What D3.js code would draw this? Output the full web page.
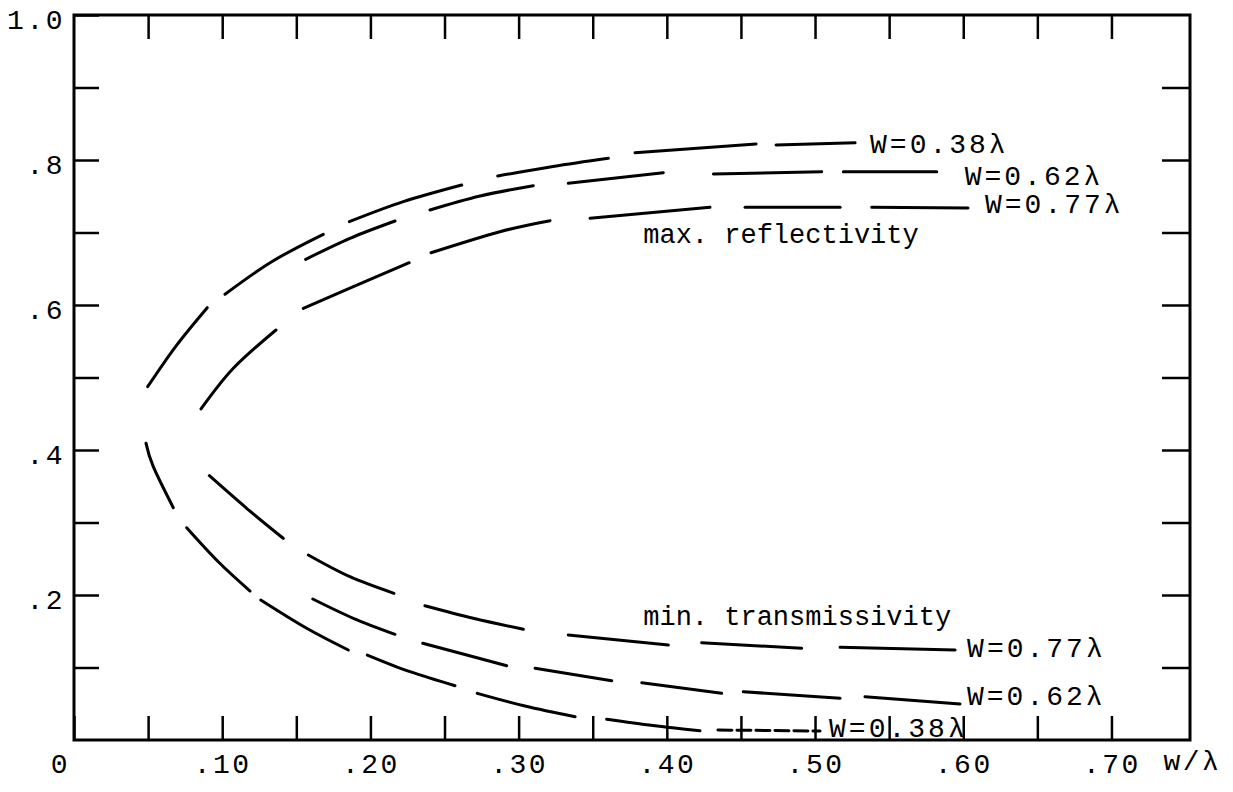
<!DOCTYPE html>
<html>
<head>
<meta charset="utf-8">
<script src="https://cdn.jsdelivr.net/npm/d3@7"></script>
<style>
body { margin: 0; background: #fff; }
</style>
</head>
<body>
<div id="chart"></div>
<script>
// tick values
var xTicks = [0, 0.05, 0.10, 0.15, 0.20, 0.25, 0.30, 0.35, 0.40, 0.45, 0.50, 0.55, 0.60, 0.65, 0.70];
var xLabelled = [0, 0.10, 0.20, 0.30, 0.40, 0.50, 0.60, 0.70];
var yTicks = [0.1, 0.2, 0.3, 0.4, 0.5, 0.6, 0.7, 0.8, 0.9];
var yLabelled = [0.2, 0.4, 0.6, 0.8, 1.0];
var xName = "w/\u03bb";

// curve labels
var curveNames = ["W=0.38\u03bb", "W=0.62\u03bb", "W=0.77\u03bb", "W=0.77\u03bb", "W=0.62\u03bb", "W=0.38\u03bb"];

var refl038 = [
  [[0.0497, 0.4873], [0.0688, 0.5434], [0.0899, 0.5963]],
  [[0.1019, 0.6148], [0.1334, 0.6597], [0.1682, 0.6975]],
  [[0.1858, 0.7149], [0.2222, 0.7425], [0.2616, 0.7655]],
  [[0.2859, 0.7779], [0.3232, 0.7910], [0.3605, 0.8023]],
  [[0.3785, 0.8101], [0.4602, 0.8221]],
  [[0.4737, 0.8207], [0.5270, 0.8239]]
];
var refl062 = [
  [[0.1563, 0.6630], [0.1862, 0.6920], [0.2166, 0.7159]],
  [[0.2402, 0.7310], [0.2740, 0.7503], [0.3099, 0.7646]],
  [[0.3335, 0.7679], [0.3976, 0.7825]],
  [[0.4314, 0.7807], [0.5045, 0.7839]],
  [[0.5191, 0.7839], [0.5821, 0.7839]]
];
var refl077 = [
  [[0.0857, 0.4566], [0.1075, 0.5127], [0.1363, 0.5655]],
  [[0.1547, 0.5954], [0.1885, 0.6252], [0.2262, 0.6583]],
  [[0.2409, 0.6721], [0.2874, 0.7011], [0.3212, 0.7163]],
  [[0.3482, 0.7196], [0.4291, 0.7348]],
  [[0.4528, 0.7348], [0.5169, 0.7348]],
  [[0.5383, 0.7348], [0.6032, 0.7338]]
];

// min. transmissivity
var trans077 = [
  [[0.0913, 0.3646], [0.1165, 0.3196], [0.1412, 0.2782]],
  [[0.1581, 0.2552], [0.1862, 0.2252], [0.2159, 0.2023]],
  [[0.2368, 0.1852], [0.2694, 0.1679], [0.3032, 0.1527]],
  [[0.3335, 0.1448], [0.4010, 0.1310]],
  [[0.4235, 0.1342], [0.4910, 0.1265]],
  [[0.5169, 0.1279], [0.5945, 0.1241]]
];
var trans062 = [
  [[0.1611, 0.1945], [0.1885, 0.1679], [0.2166, 0.1458]],
  [[0.2353, 0.1334], [0.2650, 0.1172], [0.2920, 0.1025]],
  [[0.3111, 0.0989], [0.3628, 0.0818]],
  [[0.3831, 0.0790], [0.4370, 0.0644]],
  [[0.4516, 0.0666], [0.5169, 0.0575]],
  [[0.5337, 0.0597], [0.5978, 0.0497]]
];
var trans038 = [
  [[0.0486, 0.4092], [0.0535, 0.3770], [0.0670, 0.3204]],
  [[0.0760, 0.2928], [0.0975, 0.2455], [0.1188, 0.2055]],
  [[0.1260, 0.1931], [0.1570, 0.1541], [0.1851, 0.1241]],
  [[0.1979, 0.1172], [0.2267, 0.0942], [0.2571, 0.0749]],
  [[0.2721, 0.0644], [0.3043, 0.0469], [0.3381, 0.0321]],
  [[0.3594, 0.0286], [0.3907, 0.0200], [0.4224, 0.0128]],
  [[0.4345, 0.0138], [0.5034, 0.0124]]
];

var noteText = ["max. reflectivity", "min. transmissivity"];
var noteAt = [[0.3841, 0.6855], [0.3841, 0.1586]];

var fontMono = "'Liberation Mono', 'DejaVu Sans Mono', monospace";

var svg = d3.select("#chart")
  .append("svg")
  .attr("width", 1233)
  .attr("height", 792)
  .style("background", "#fff");

var x = d3.scaleLinear().domain([0, 0.753]).range([74, 1190]);
var y = d3.scaleLinear().domain([0, 1]).range([740, 15]);

// frame
svg.append("rect")
  .attr("x", x(0))
  .attr("y", y(1))
  .attr("width", x(0.753) - x(0))
  .attr("height", y(0) - y(1))
  .attr("fill", "none")
  .attr("stroke", "#000")
  .attr("stroke-width", 3);

function styleAxis(g) {
  g.select(".domain").remove();
  g.attr("color", "#000")
    .attr("font-family", fontMono)
    .attr("font-size", 28);
  g.selectAll(".tick line").attr("stroke-width", 2.5);
  g.selectAll("text").attr("letter-spacing", 2.5);
}

// bottom axis, ticks point inward
svg.append("g")
  .attr("transform", "translate(0," + y(0) + ")")
  .call(d3.axisBottom(x).tickValues(xTicks).tickSize(-24).tickPadding(13)
    .tickFormat(function(d) {
      var hit = xLabelled.some(function(v) { return Math.abs(v - d) < 1e-9; });
      if (!hit) return "";
      return d === 0 ? "0" : d3.format(".2f")(d).replace(/^0/, "");
    }))
  .call(styleAxis)
  .selectAll(".tick")
  .filter(function(d) { return d === 0; })
  .select("text").attr("dx", -14);

svg.append("g")
  .attr("transform", "translate(0," + y(1) + ")")
  .call(d3.axisTop(x).tickValues(xTicks.slice(1)).tickSize(-24).tickFormat(""))
  .call(styleAxis);

svg.append("g")
  .attr("transform", "translate(" + x(0) + ",0)")
  .call(d3.axisLeft(y).tickValues(yTicks.concat([1.0])).tickSize(-25).tickPadding(9)
    .tickFormat(function(d) {
      var hit = yLabelled.some(function(v) { return Math.abs(v - d) < 1e-9; });
      if (!hit) return "";
      return d === 1 ? "1.0" : d3.format(".1f")(d).replace(/^0/, "");
    }))
  .call(styleAxis)
  .selectAll("text").attr("dy", "0.48em");

svg.append("g")
  .attr("transform", "translate(" + x(0.753) + ",0)")
  .call(d3.axisRight(y).tickValues(yTicks).tickSize(-28).tickFormat(""))
  .call(styleAxis);

// axis name
svg.append("text")
  .attr("x", x(0.70) + 52)
  .attr("y", y(0) + 30)
  .attr("font-family", fontMono)
  .attr("font-size", 28)
  .attr("letter-spacing", 2.5)
  .text(xName);

// curves
var allSeries = [refl038, refl062, refl077, trans077, trans062, trans038];
// label offsets from the last point of each curve (px)
var labelOff = [[15, 10], [28, 13], [17, 5], [12, 7], [7, 1], [9, 6]];

var line = d3.line()
  .x(function(d) { return x(d[0]); })
  .y(function(d) { return y(d[1]); })
  .curve(d3.curveNatural);

allSeries.forEach(function(dashes, si) {
  svg.append("g")
    .selectAll("path")
    .data(dashes)
    .enter()
    .append("path")
    .attr("d", line)
    .attr("fill", "none")
    .attr("stroke", "#000")
    .attr("stroke-width", 3)
    .attr("stroke-linecap", "round")
    .attr("stroke-dasharray", function(d, i) {
      // tail of the lowest curve is drawn in short strokes
      return (si === 5 && i === dashes.length - 1) ? "14,5" : null;
    });

  var lastDash = dashes[dashes.length - 1];
  var last = lastDash[lastDash.length - 1];
  svg.append("text")
    .attr("x", x(last[0]) + labelOff[si][0])
    .attr("y", y(last[1]) + labelOff[si][1])
    .attr("font-family", fontMono)
    .attr("font-size", 28)
    .attr("letter-spacing", 3)
    .text(curveNames[si]);
});

// annotations
svg.selectAll("text.note")
  .data(noteText)
  .enter()
  .append("text")
  .attr("class", "note")
  .attr("x", function(d, i) { return x(noteAt[i][0]); })
  .attr("y", function(d, i) { return y(noteAt[i][1]); })
  .attr("font-family", fontMono)
  .attr("font-size", 27)
  .text(function(d) { return d; });
</script>
</body>
</html>
